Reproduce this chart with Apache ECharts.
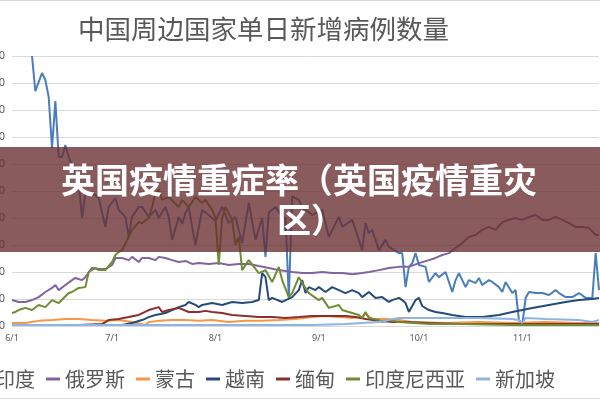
<!DOCTYPE html>
<html><head><meta charset="utf-8">
<script src="https://cdn.jsdelivr.net/npm/echarts@6/dist/echarts.min.js"></script>
<style>html,body{margin:0;padding:0;background:#fff}#c{width:600px;height:400px}</style>
</head><body><div id="c"></div>
<script>
// Chart text
const chartTitle = '中国周边国家单日新增病例数量';
const bannerLine1 = '英国疫情重症率（英国疫情重灾';
const bannerLine2 = '区）';
const seriesNames = ['印度','俄罗斯','蒙古','越南','缅甸','印度尼西亚','新加坡'];
// x categories: every day from 6/1 for 177 days; tick labels shown on the 1st of each month
const startMonth = 6, dayCount = 177;
const monthLens = {6:30,7:31,8:31,9:30,10:31,11:30};
// y axis
const yMin = 0, yMax = 1000, yStep = 100;

// values as [dayIndex (0 = 6/1), value]
const india = [[6,1000],[7,870],[9,937],[10,911],[11,848],[12,659],[13,833],[14,626],[15,626],[16,670],[17,626],[18,596],[20,530],[21,400],[22,493],[23,496],[25,485],[26,474],[28,367],[29,441],[31,474],[32,430],[34,404],[35,330],[36,404],[38,441],[39,441],[41,404],[43,430],[44,400],[46,441],[47,404],[48,319],[50,404],[51,378],[52,418],[53,441],[54,367],[55,300],[57,430],[59,411],[61,389],[63,441],[65,381],[67,404],[69,307],[71,456],[73,319],[75,400],[76,256],[77,420],[79,441],[81,404],[82,400],[83,104],[84,480],[86,467],[87,441],[90,411],[93,430],[95,330],[98,404],[99,367],[102,393],[104,319],[105,281],[106,381],[107,344],[108,356],[110,281],[112,319],[113,293],[116,270],[117,270],[118,144],[119,219],[120,233],[121,270],[122,226],[124,219],[125,163],[127,196],[128,181],[130,200],[132,126],[133,170],[134,196],[136,144],[137,170],[139,159],[140,178],[141,152],[143,170],[144,163],[146,144],[147,126],[148,163],[150,122],[151,133],[152,22],[153,4],[154,104],[155,126],[157,122],[159,122],[161,115],[163,133],[164,122],[166,107],[168,107],[170,122],[172,104],[174,104],[175,270],[176,133]];
const russia = [[0,96],[2,89],[4,89],[6,96],[8,107],[10,126],[12,141],[13,152],[14,133],[16,152],[18,170],[19,178],[21,170],[22,181],[24,215],[26,211],[28,211],[30,226],[31,252],[33,252],[35,244],[36,256],[38,237],[39,252],[41,252],[43,244],[44,256],[46,252],[48,244],[50,237],[52,241],[54,230],[56,233],[59,230],[62,233],[65,226],[68,230],[71,230],[74,222],[77,215],[80,207],[84,200],[87,196],[90,196],[93,200],[96,196],[99,196],[102,192],[105,196],[107,200],[110,207],[113,215],[116,219],[119,219],[122,233],[125,244],[127,252],[129,263],[131,270],[133,289],[135,307],[136,319],[137,330],[139,337],[141,356],[143,367],[145,356],[147,385],[149,393],[151,400],[153,393],[155,404],[157,411],[159,393],[161,393],[163,404],[165,393],[167,381],[169,367],[171,367],[173,363],[175,337],[176,337]];
const mongolia = [[0,11],[4,11],[8,19],[12,22],[16,26],[20,26],[24,22],[28,19],[32,22],[36,15],[40,4],[41,15],[44,19],[48,22],[52,22],[56,19],[60,22],[65,15],[70,19],[75,19],[80,22],[85,26],[90,33],[94,37],[98,33],[102,30],[105,33],[106,44],[108,26],[112,26],[116,22],[120,15],[130,11],[140,15],[150,11],[160,15],[170,11],[176,11]];
const vietnam = [[0,4],[10,4],[20,4],[30,4],[33,4],[36,11],[39,22],[41,33],[43,41],[46,48],[48,59],[50,70],[52,78],[53,89],[55,78],[56,70],[57,78],[60,85],[63,78],[66,89],[69,85],[72,89],[74,96],[75,196],[76,181],[77,96],[78,104],[81,89],[84,107],[86,133],[87,170],[88,122],[89,144],[91,133],[92,144],[94,126],[96,144],[98,133],[100,122],[102,133],[104,122],[105,107],[107,126],[109,104],[111,107],[113,89],[114,96],[116,104],[117,96],[118,85],[119,52],[121,96],[122,104],[123,74],[125,59],[127,52],[129,48],[132,41],[136,33],[141,33],[146,41],[150,52],[153,59],[156,67],[161,78],[166,89],[170,96],[174,100],[176,104]];
const myanmar = [[0,4],[20,4],[27,7],[29,22],[32,26],[35,33],[38,41],[41,59],[44,70],[45,52],[47,59],[50,67],[53,52],[56,52],[58,56],[60,52],[63,48],[66,41],[70,37],[74,33],[78,33],[82,30],[86,33],[90,37],[95,37],[100,37],[103,33],[106,26],[110,19],[114,15],[118,15],[125,11],[135,7],[150,7],[165,7],[176,7]];
const indonesia = [[0,48],[1,52],[2,59],[4,67],[6,59],[8,78],[10,70],[12,96],[14,85],[17,122],[18,126],[20,141],[22,144],[23,200],[25,215],[26,207],[28,207],[30,237],[31,263],[32,274],[33,281],[35,330],[36,356],[38,385],[39,381],[41,400],[42,441],[43,493],[44,504],[45,467],[47,478],[50,441],[51,467],[53,441],[55,478],[57,456],[58,467],[60,430],[61,400],[62,226],[63,400],[64,441],[66,393],[67,300],[68,330],[69,207],[71,244],[74,196],[76,207],[78,163],[80,219],[81,170],[83,107],[84,122],[86,181],[87,159],[89,122],[92,96],[93,104],[95,67],[98,78],[99,59],[101,52],[104,41],[105,30],[106,52],[107,30],[110,22],[111,15],[113,22],[116,15],[125,7],[135,7],[150,4],[165,4],[176,4]];
const singapore = [[0,4],[30,4],[60,4],[90,4],[100,7],[110,15],[113,22],[116,30],[120,30],[130,30],[140,30],[150,26],[152,22],[153,11],[154,30],[160,26],[170,22],[174,15],[176,22]];

const seriesValues = [india, russia, mongolia, vietnam, myanmar, indonesia, singapore];
const seriesColors = ['#4A7EBB','#8064A2','#F79646','#254B7A','#8B2F2C','#6F8C34','#8EB4E3'];

const categories = [];
{ let m = startMonth, d = 1;
  for (let i = 0; i < dayCount; i++) {
    categories.push(m + '/' + d);
    d++; if (d > monthLens[m]) { d = 1; m++; }
  } }

const chart = echarts.init(document.getElementById('c'), null, {renderer:'canvas'});
chart.setOption({
  animation: false,
  backgroundColor: '#fff',
  title: {
    text: chartTitle, left: 73, top: 11,
    textStyle: {fontFamily: 'Noto Sans CJK SC', fontSize: 26.5, fontWeight: 'normal', color: '#595959'}
  },
  grid: {left: 12, right: 1, top: 56, bottom: 74, containLabel: false, outerBoundsMode: 'none'},
  legend: {
    data: seriesNames, left: -29, top: 364, icon: 'rect', itemWidth: 14, itemHeight: 3, itemGap: 11,
    textStyle: {fontFamily: 'Noto Sans CJK SC', fontSize: 20, color: '#595959'}
  },
  xAxis: {
    type: 'category', data: categories, boundaryGap: false,
    axisLine: {lineStyle: {color: '#D9D9D9'}}, axisTick: {show: false},
    axisLabel: {interval: (i, v) => v.endsWith('/1') && v.indexOf('/') === v.length - 2, color: '#595959', fontSize: 9, margin: 8, fontFamily: 'Noto Sans'},
    splitLine: {show: false}
  },
  yAxis: {
    type: 'value', min: yMin, max: yMax, interval: yStep,
    axisLine: {show: false}, axisTick: {show: false},
    axisLabel: {color: '#595959', fontSize: 11, margin: 7, fontFamily: 'Noto Sans', formatter: v => String(v)},
    splitLine: {lineStyle: {color: '#D9D9D9', width: 1}}
  },
  series: seriesNames.map((n, i) => ({
    name: n, type: 'line', data: seriesValues[i], showSymbol: false, symbol: 'none',
    lineStyle: {width: 2, color: seriesColors[i]}, itemStyle: {color: seriesColors[i]}, z: 2 + i
  })),
  graphic: [
    {type: 'line', shape: {x1: 0, y1: 0.5, x2: 600, y2: 0.5}, style: {stroke: '#D9D9D9', lineWidth: 1}, z: 50},
    {type: 'line', shape: {x1: 0, y1: 398.5, x2: 600, y2: 398.5}, style: {stroke: '#D9D9D9', lineWidth: 1}, z: 50},
    {type: 'rect', shape: {x: 0, y: 147, width: 600, height: 105}, style: {fill: 'rgba(105,45,47,0.78)'}, z: 100},
    {type: 'text', x: 299, y: 180, z: 101, style: {text: bannerLine1, fill: '#fff', fontSize: 34, fontWeight: 'bold', fontFamily: 'Noto Sans CJK SC', textAlign: 'center', textVerticalAlign: 'middle'}},
    {type: 'text', x: 311, y: 220, z: 101, style: {text: bannerLine2, fill: '#fff', fontSize: 34, fontWeight: 'bold', fontFamily: 'Noto Sans CJK SC', textAlign: 'center', textVerticalAlign: 'middle'}}
  ]
});
</script></body></html>
